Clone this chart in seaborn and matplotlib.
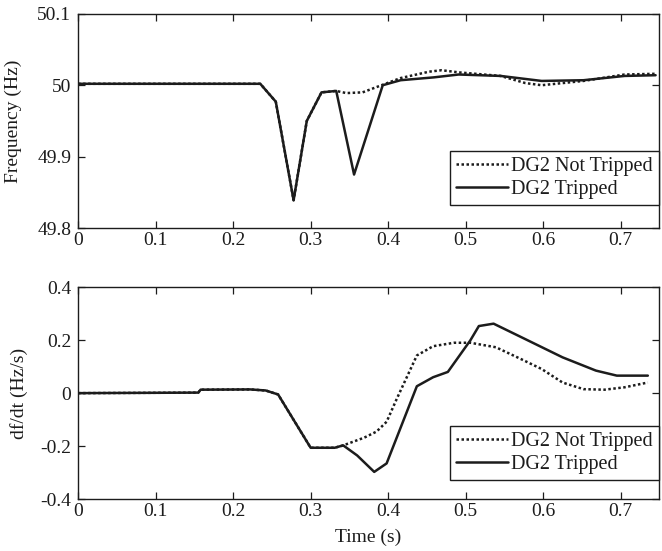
import numpy as np
import pandas as pd
import matplotlib
matplotlib.use("Agg")
import matplotlib.pyplot as plt
import seaborn as sns

# Frequency response (Hz)
t_freq_not = [0, 0.235, 0.255, 0.278, 0.295, 0.314, 0.333, 0.346, 0.367, 0.384, 0.416,
              0.453, 0.469, 0.491, 0.545, 0.577, 0.598, 0.625, 0.652, 0.705, 0.745]
f_not = [50.002, 50.002, 49.977, 49.839, 49.95, 49.99, 49.992, 49.989, 49.99, 49.997, 50.01,
         50.019, 50.021, 50.018, 50.013, 50.003, 50.0, 50.003, 50.006, 50.015, 50.016]
t_freq_trip = [0, 0.235, 0.255, 0.278, 0.295, 0.314, 0.333, 0.356, 0.393, 0.416, 0.459,
               0.491, 0.545, 0.598, 0.652, 0.705, 0.745]
f_trip = [50.002, 50.002, 49.977, 49.839, 49.95, 49.99, 49.992, 49.875, 50.0, 50.007, 50.011,
          50.015, 50.013, 50.006, 50.007, 50.013, 50.014]

# Rate of change of frequency (Hz/s)
t_rocof_not = [0, 0.155, 0.158, 0.222, 0.242, 0.258, 0.30, 0.331, 0.342, 0.369, 0.385, 0.398,
               0.411, 0.424, 0.437, 0.458, 0.485, 0.506, 0.539, 0.571, 0.598, 0.625, 0.652,
               0.679, 0.705, 0.735]
d_not = [0, 0.002, 0.013, 0.014, 0.01, -0.005, -0.206, -0.206, -0.197, -0.168, -0.145, -0.108,
         -0.022, 0.06, 0.142, 0.177, 0.19, 0.19, 0.173, 0.129, 0.091, 0.04, 0.015,
         0.013, 0.022, 0.04]
t_rocof_trip = [0, 0.155, 0.158, 0.222, 0.242, 0.258, 0.30, 0.331, 0.342, 0.36, 0.382, 0.398,
                0.437, 0.458, 0.477, 0.506, 0.517, 0.536, 0.576, 0.625, 0.668, 0.695, 0.735]
d_trip = [0, 0.002, 0.013, 0.014, 0.01, -0.005, -0.206, -0.206, -0.197, -0.235, -0.297, -0.265,
          0.026, 0.06, 0.08, 0.199, 0.253, 0.262, 0.205, 0.135, 0.085, 0.066, 0.066]

labels = ["DG2 Not Tripped", "DG2 Tripped"]
x_ticks = [0, 0.1, 0.2, 0.3, 0.4, 0.5, 0.6, 0.7]
x_ticklabels = ["0", "0.1", "0.2", "0.3", "0.4", "0.5", "0.6", "0.7"]
f_ticks = [49.8, 49.9, 50.0, 50.1]
f_ticklabels = ["49.8", "49.9", "50", "50.1"]
d_ticks = [-0.4, -0.2, 0, 0.2, 0.4]
d_ticklabels = ["-0.4", "-0.2", "0", "0.2", "0.4"]

sns.set_theme(style="ticks")
ink = "#1c1c1c"
plt.rcParams.update({
    "font.family": ["Liberation Serif", "DejaVu Serif"],
    "text.color": ink, "axes.labelcolor": ink,
    "xtick.color": ink, "ytick.color": ink,
    "axes.edgecolor": ink, "axes.linewidth": 1.0,
    "xtick.direction": "in", "ytick.direction": "in",
})


def long_form(t_a, v_a, t_b, v_b):
    return pd.DataFrame({
        "t": list(t_a) + list(t_b),
        "v": list(v_a) + list(v_b),
        "case": [labels[0]] * len(t_a) + [labels[1]] * len(t_b),
    })


df_f = long_form(t_freq_not, f_not, t_freq_trip, f_trip)
df_d = long_form(t_rocof_not, d_not, t_rocof_trip, d_trip)

fig = plt.figure(figsize=(6.62, 5.51), dpi=100)
ax1 = fig.add_axes([0.118, 0.586, 0.877, 0.389])
ax2 = fig.add_axes([0.118, 0.094, 0.877, 0.385])

dash_map = {labels[0]: (1, 1), labels[1]: ""}
palette = {labels[0]: ink, labels[1]: ink}

for ax, data in ((ax1, df_f), (ax2, df_d)):
    sns.lineplot(data=data, x="t", y="v", hue="case", style="case",
                 dashes=dash_map, palette=palette, estimator=None, sort=False,
                 linewidth=1.8, ax=ax, legend=False)
    ax.set_xlim(0, 0.749)
    ax.set_xticks(x_ticks)
    ax.set_xticklabels(x_ticklabels)
    ax.tick_params(axis="both", which="both", top=True, right=True, length=5,
                   width=0.9, labelsize=14)
    ax.tick_params(axis="x", pad=3)
    ax.tick_params(axis="y", pad=5)
    for sp in ax.spines.values():
        sp.set_visible(True)
    handles = ax.get_lines()[:2]
    leg = ax.legend(handles, labels, loc="lower right", fontsize=14.5,
                    frameon=True, fancybox=False, framealpha=1,
                    edgecolor=ink, handlelength=2.6, handletextpad=0.15,
                    borderpad=0.3, labelspacing=0.2, borderaxespad=0)
    leg.get_frame().set_linewidth(1.0)

ax1.set_ylim(49.8, 50.1)
ax1.set_yticks(f_ticks)
ax1.set_yticklabels(f_ticklabels)
ax1.set_xlabel("")
ax1.set_ylabel("Frequency (Hz)", fontsize=14)
ax1.yaxis.set_label_coords(-0.097, 0.5)
ax1.get_legend().set_bbox_to_anchor((1.0, 0.107), transform=ax1.transAxes)

ax2.set_ylim(-0.4, 0.4)
ax2.set_yticks(d_ticks)
ax2.set_yticklabels(d_ticklabels)
ax2.set_xlabel("Time (s)", fontsize=14)
ax2.xaxis.set_label_coords(0.5, -0.14)
ax2.set_ylabel("df/dt (Hz/s)", fontsize=14)
ax2.yaxis.set_label_coords(-0.087, 0.5)
ax2.get_legend().set_bbox_to_anchor((1.0, 0.09), transform=ax2.transAxes)

fig.savefig("out.png", dpi=100)
